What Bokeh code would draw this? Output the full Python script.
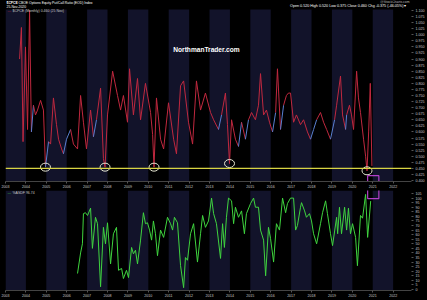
from bokeh.plotting import figure
from bokeh.layouts import column
from bokeh.models import (Range1d, FixedTicker, NumeralTickFormatter, BoxAnnotation,
                          Span, Label)
from bokeh.embed import file_html
from bokeh.resources import INLINE

# ---------------- data ----------------
YEARS = list(range(2003, 2023))

CPCE_DATES = [2003.69, 2003.78, 2003.86, 2003.98, 2004.08, 2004.18, 2004.27, 2004.37, 2004.47, 2004.57,
              2004.72, 2004.86, 2004.96, 2005.11, 2005.21, 2005.35, 2005.50, 2005.60, 2005.75, 2005.84,
              2005.99, 2006.19, 2006.33, 2006.53, 2006.68, 2006.82, 2006.97, 2007.17, 2007.31, 2007.46,
              2007.66, 2007.80, 2007.88, 2008.00, 2008.25, 2008.49, 2008.64, 2008.78, 2008.98, 2009.08,
              2009.27, 2009.47, 2009.62, 2009.86, 2010.11, 2010.21, 2010.28, 2010.40, 2010.60, 2010.75,
              2010.99, 2011.24, 2011.38, 2011.58, 2011.73, 2011.97, 2012.17, 2012.36, 2012.56, 2012.80,
              2013.05, 2013.20, 2013.44, 2013.59, 2013.78, 2013.88, 2013.98, 2014.08, 2014.27, 2014.42,
              2014.57, 2014.76, 2014.91, 2015.06, 2015.25, 2015.40, 2015.50, 2015.65, 2015.79, 2015.94,
              2016.09, 2016.24, 2016.33, 2016.48, 2016.63, 2016.77, 2016.87, 2016.97, 2017.12, 2017.26,
              2017.46, 2017.61, 2017.80, 2017.95, 2018.10, 2018.25, 2018.44, 2018.59, 2018.74, 2018.93,
              2019.13, 2019.23, 2019.42, 2019.52, 2019.67, 2019.72, 2019.86, 2019.96, 2020.06, 2020.21,
              2020.30, 2020.40, 2020.55, 2020.65, 2020.72, 2020.80, 2020.88, 2020.96]
CPCE_VALUES = [0.90, 1.03, 0.56, 0.95, 0.61, 1.10, 0.60, 0.71, 0.67, 0.69,
               0.73, 0.69, 0.455, 0.56, 0.55, 0.74, 0.63, 0.57, 0.53, 0.51,
               0.57, 0.61, 0.55, 0.53, 0.75, 0.64, 0.53, 0.69, 0.58, 0.65,
               0.78, 0.49, 0.455, 0.67, 0.85, 0.75, 0.69, 0.75, 0.64, 0.86,
               0.67, 0.82, 0.65, 0.80, 0.68, 0.59, 0.455, 0.74, 0.57, 0.53,
               0.72, 0.57, 0.51, 0.79, 0.81, 0.64, 0.55, 0.81, 0.69, 0.76,
               0.68, 0.65, 0.61, 0.67, 0.76, 0.63, 0.47, 0.65, 0.57, 0.54,
               0.64, 0.57, 0.65, 0.68, 0.65, 0.71, 0.84, 0.67, 0.69, 0.64,
               0.60, 0.68, 0.86, 0.61, 0.71, 0.75, 0.76, 0.76, 0.64, 0.67,
               0.63, 0.65, 0.60, 0.57, 0.61, 0.65, 0.68, 0.64, 0.61, 0.57,
               0.65, 0.71, 0.83, 0.67, 0.61, 0.67, 0.71, 0.67, 0.61, 0.85,
               0.74, 0.68, 0.57, 0.50, 0.44, 0.60, 0.80, 0.46]
LOW_DATES = [2004.96, 2007.88, 2010.28, 2013.98, 2020.72]   # circled lows
SUPPORT_LEVEL = 0.45
CPCE_TICKS = [round(0.400 + 0.025 * i, 3) for i in range(29)]

ASDF_DATES = [2006.53, 2006.68, 2006.77, 2006.82, 2006.92, 2007.02, 2007.17, 2007.26, 2007.41, 2007.51,
              2007.66, 2007.80, 2007.90, 2008.00, 2008.15, 2008.29, 2008.44, 2008.54, 2008.69, 2008.78,
              2008.93, 2009.03, 2009.18, 2009.27, 2009.37, 2009.47, 2009.62, 2009.76, 2009.86, 2009.96,
              2010.06, 2010.16, 2010.25, 2010.35, 2010.45, 2010.60, 2010.75, 2010.94, 2011.09, 2011.19,
              2011.28, 2011.43, 2011.58, 2011.73, 2011.82, 2011.92, 2012.07, 2012.22, 2012.41, 2012.56,
              2012.66, 2012.80, 2012.95, 2013.10, 2013.20, 2013.34, 2013.54, 2013.64, 2013.73, 2013.83,
              2013.93, 2014.08, 2014.18, 2014.27, 2014.42, 2014.57, 2014.71, 2014.81, 2015.01, 2015.16,
              2015.25, 2015.40, 2015.50, 2015.65, 2015.75, 2015.89, 2015.99, 2016.14, 2016.28, 2016.43,
              2016.58, 2016.73, 2016.82, 2016.97, 2017.12, 2017.22, 2017.31, 2017.46, 2017.51, 2017.66,
              2017.75, 2017.90, 2018.00, 2018.10, 2018.25, 2018.44, 2018.54, 2018.69, 2018.78, 2018.93,
              2019.03, 2019.23, 2019.28, 2019.37, 2019.47, 2019.62, 2019.72, 2019.81, 2019.91, 2020.01,
              2020.16, 2020.25, 2020.40, 2020.50, 2020.65, 2020.75, 2020.90]
ASDF_VALUES = [17.5, 40, 50, 83, 84, 81, 89, 45, 79, 72,
               3, 68, 50, 73, 28, 61, 68, 21, 23, 12,
               21, 13, 46, 39, 43, 28, 54, 84, 72, 73,
               65, 54, 75, 61, 37, 65, 57, 79, 72, 65,
               79, 73, 26, 2, 35, 32, 61, 72, 30, 61,
               81, 68, 75, 100, 83, 72, 34, 72, 46, 79,
               100, 97, 72, 90, 79, 86, 61, 83, 94, 100,
               90, 90, 65, 54, 15, 68, 56, 30, 72, 65,
               100, 84, 94, 100, 100, 65, 70, 90, 95, 86,
               79, 83, 75, 61, 50, 72, 84, 97, 83, 61,
               48, 79, 61, 90, 61, 90, 65, 89, 61, 72,
               57, 26, 81, 78, 104, 57, 96.74]
ASDF_TICKS = list(range(0, 110, 5))
HIGHLIGHT_START, HIGHLIGHT_END = 2020.75, 2021.3

# ---------------- styling ----------------
BG = "#000000"
BAND = "#12132a"
TXT = "#c8c8c8"
RED = "#c0283f"
BLUE = "#5a7fd0"
GREEN = "#3fd43f"
YELLOW = "#d8d443"
MAGENTA = "#b23fc6"

xr = Range1d(2003.0, 2022.9)


def base_fig(height, yr, bottom, band_top):
    p = figure(width=427, height=height, x_range=xr, y_range=yr, output_backend="svg",
               toolbar_location=None, y_axis_location="right",
               min_border_left=5, min_border_right=16, min_border_top=0, min_border_bottom=bottom,
               background_fill_color=BG, border_fill_color=BG, outline_line_color=None)
    p.grid.visible = False
    for y in YEARS:
        if y % 2 == 1:
            p.add_layout(BoxAnnotation(left=y, right=y + 1, top=band_top, fill_color=BAND,
                                       fill_alpha=1.0, line_alpha=0, level="underlay"))
    xa = p.xaxis[0]
    xa.ticker = FixedTicker(ticks=YEARS)
    xa.formatter = NumeralTickFormatter(format="0")
    xa.major_label_text_align = "left"
    xa.major_label_text_font_size = "3.6px"
    xa.major_label_text_color = TXT
    xa.major_label_standoff = 1
    xa.major_tick_in = 0
    xa.major_tick_out = 2
    xa.major_tick_line_color = "#555555"
    xa.minor_tick_line_color = None
    xa.axis_line_color = "#444444"
    ya = p.yaxis[0]
    ya.major_label_text_font_size = "3.6px"
    ya.major_label_text_color = TXT
    ya.major_label_standoff = 2
    ya.major_tick_in = 0
    ya.major_tick_out = 2
    ya.major_tick_line_color = "#555555"
    ya.minor_tick_line_color = None
    ya.axis_line_color = None
    return p


# ---------------- top panel ----------------
PANEL_TOP = 1.104
top = base_fig(190, Range1d(0.396, 1.141), bottom=8, band_top=PANEL_TOP)
top.yaxis[0].ticker = FixedTicker(ticks=CPCE_TICKS)
top.yaxis[0].formatter = NumeralTickFormatter(format="0.000")

x0, y0, x1, y1, cols = [], [], [], [], []
for i in range(len(CPCE_DATES) - 1):
    a, b = CPCE_VALUES[i], CPCE_VALUES[i + 1]
    x0.append(CPCE_DATES[i]); y0.append(a); x1.append(CPCE_DATES[i + 1]); y1.append(b)
    cols.append(BLUE if (b > a and a < 0.62 and b - a < 0.15) else RED)
top.segment(x0=x0, y0=y0, x1=x1, y1=y1, color=cols, line_width=1)

top.add_layout(Span(location=SUPPORT_LEVEL, dimension="width", line_color=YELLOW, line_width=1.2))

lookup = dict(zip(CPCE_DATES, CPCE_VALUES))
top.ellipse(x=LOW_DATES, y=[lookup[d] for d in LOW_DATES], width=10, height=8,
            width_units="screen", height_units="screen", fill_alpha=0,
            line_color="#e6e6d2", line_width=1)

top.quad(left=[HIGHLIGHT_START], right=[HIGHLIGHT_END], bottom=[0.30], top=[0.42],
         fill_alpha=0, line_color=MAGENTA, line_width=1.2)

top.add_layout(Label(x=2012.85, y=0.94, text="NorthmanTrader.com", text_color="#ffffff",
                     text_font_size="6.6px", text_font_style="bold", text_align="center",
                     text_baseline="middle", text_font="Arial"))

X0, YT = 2003.0, PANEL_TOP
top.add_layout(Label(x=X0, y=YT, x_offset=1, y_offset=6.5, text="$CPCE", text_font_style="bold",
                     text_color="#ffffff", text_font_size="3.4px", text_baseline="middle"))
top.add_layout(Label(x=X0, y=YT, x_offset=13, y_offset=6.5,
                     text="CBOE Options Equity Put/Call Ratio (EOD) Index",
                     text_color="#ffffff", text_font_size="3.4px", text_baseline="middle"))
top.add_layout(Label(x=X0, y=YT, x_offset=1, y_offset=2.6, text="25-Nov-2020",
                     text_color="#ffffff", text_font_size="3.4px", text_baseline="middle"))
top.add_layout(Label(x=X0, y=YT, x_offset=2, y_offset=-1.5, text="\u2014", text_color=RED,
                     text_font_size="3.6px", text_baseline="middle"))
top.add_layout(Label(x=X0, y=YT, x_offset=7, y_offset=-1.5, text="$CPCE (Monthly) 0.460 (25 Nov)",
                     text_color=TXT, text_font_size="3.5px", text_baseline="middle"))
XE = 2022.9
top.add_layout(Label(x=XE, y=YT, x_offset=-2, y_offset=7.8, text="@StockCharts.com",
                     text_color="#bbbbbb", text_font_size="3.4px", text_align="right",
                     text_baseline="middle"))
top.add_layout(Label(x=XE, y=YT, x_offset=-1, y_offset=3.6,
                     text="Open 0.520  High 0.520  Low 0.375  Close 0.460  Chg -0.375 (-46.05%) \u25be",
                     text_color="#ffffff", text_font_size="3.7px", text_align="right",
                     text_baseline="middle"))

# ---------------- bottom panel ----------------
bot = base_fig(110, Range1d(-1.1, 108.3), bottom=10, band_top=None)
bot.yaxis[0].ticker = FixedTicker(ticks=ASDF_TICKS)
bot.yaxis[0].formatter = NumeralTickFormatter(format="0")
bot.line(x=ASDF_DATES, y=ASDF_VALUES, line_color=GREEN, line_width=1)
bot.quad(left=[HIGHLIGHT_START], right=[HIGHLIGHT_END], bottom=[99.5], top=[120],
         fill_alpha=0, line_color=MAGENTA, line_width=1.2)
bot.add_layout(Label(x=X0, y=108.3, x_offset=2, y_offset=-2.2, text="\u2014", text_color=GREEN,
                     text_font_size="3.6px", text_baseline="middle"))
bot.add_layout(Label(x=X0, y=108.3, x_offset=7, y_offset=-2.2, text="%ASDF 96.74",
                     text_color=TXT, text_font_size="3.5px", text_baseline="middle"))

layout = column(top, bot, spacing=0, background=BG)
open("out.html", "w").write(file_html(layout, INLINE))
